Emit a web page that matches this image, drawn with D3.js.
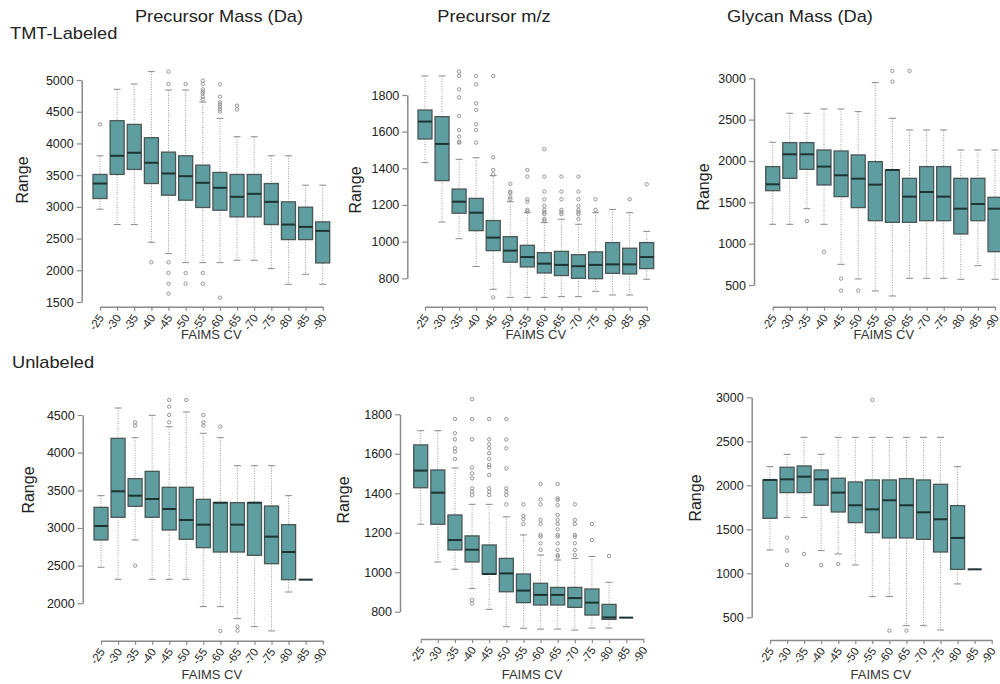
<!DOCTYPE html>
<html><head><meta charset="utf-8">
<script src="https://cdn.jsdelivr.net/npm/d3@7"></script>
<style>
body{margin:0;background:#fff}
svg{display:block}
text{font-family:"Liberation Sans",Arial,Helvetica,sans-serif}
</style>
</head><body><svg id="c" width="1000" height="684"></svg>
<script>
const cvLabels = ["-25","-30","-35","-40","-45","-50","-55","-60","-65","-70","-75","-80","-85","-90"];
const rowLabels = ["TMT-Labeled","Unlabeled"];
const colTitles = ["Precursor Mass (Da)","Precursor m/z","Glycan Mass (Da)"];
const yLabel = "Range";
const xLabel = "FAIMS CV";

// TMT-labeled, precursor mass
const tmtMassTicks = [1500,2000,2500,3000,3500,4000,4500,5000];
const tmtMassLow  = [2963,2721,2721,2442,2263,2121,2121,2121,2158,2158,2026,1779,1937,1779];
const tmtMassQ1   = [3132,3511,3590,3368,3184,3105,2990,2947,2842,2842,2721,2484,2484,2116];
const tmtMassMed  = [3368,3805,3853,3695,3526,3484,3379,3300,3158,3205,3079,2721,2684,2621];
const tmtMassQ3   = [3511,4358,4300,4090,3863,3805,3658,3542,3511,3511,3368,3079,2995,2763];
const tmtMassHigh = [3805,4853,4937,5132,4842,4842,4653,4395,4105,4105,3805,3805,3342,3342];
const tmtMassOut  = [[4300],[],[],[2126],[5132,4937,2126,1958,1789,1632],[4937,1958,1789],
  [4990,4937,4853,4816,4790,4737,4695,1958,1789],[4932,4737,4647,4616,4579,4537,4500,1568],[4595,4537],[],[],[],[],[]];

// TMT-labeled, precursor m/z
const tmtMzTicks = [800,1000,1200,1400,1600,1800];
const tmtMzLow  = [1431,1107,1016,864,740,696,696,696,700,700,729,709,709,795];
const tmtMzQ1   = [1560,1333,1155,1060,951,888,862,829,815,800,798,827,824,853];
const tmtMzMed  = [1655,1533,1218,1158,1022,951,916,880,873,866,873,876,876,916];
const tmtMzQ3   = [1718,1682,1287,1236,1115,1027,980,940,947,929,944,995,964,995];
const tmtMzHigh = [1904,1904,1449,1458,1360,1218,1158,1104,1122,1095,1158,1176,1158,1056];
const tmtMzOut  = [[],[],[1927,1904,1831,1787,1685,1609,1573,1545,1540],[1904,1858,1755,1718,1640,1609,1540],
  [1904,1460,1391,1367,696],[1315,1273,1265,1242,1231],[1391,1355,1231,1218,1173,1164],
  [1504,1355,1273,1231,1195,1173,1160,1151,1124,1115],[1355,1273,1231,1173,1160,1150],
  [1355,1273,1231,1195,1173,1160,1150,1124],[1231,1173],[],[1231],[1313]];

// TMT-labeled, glycan mass
const tmtGlyTicks = [500,1000,1500,2000,2500,3000];
const tmtGlyLow  = [1234,1234,1423,1234,750,573,428,367,581,581,581,569,734,569];
const tmtGlyQ1   = [1641,1790,1899,1710,1569,1436,1278,1258,1258,1278,1278,1117,1278,903];
const tmtGlyMed  = [1718,2081,2081,1932,1827,1786,1714,1891,1569,1625,1569,1423,1480,1423];
const tmtGlyQ3   = [1932,2222,2222,2133,2121,2073,1992,1891,1790,1932,1932,1790,1790,1561];
const tmtGlyHigh = [2226,2577,2577,2629,2629,2597,2948,2516,2375,2375,2375,2133,2133,2133];
const tmtGlyOut  = [[],[],[1274],[903],[577,432],[432],[],[3089,2960],[3089],[],[],[],[],[]];

// Unlabeled, precursor mass
const unlMassTicks = [2000,2500,3000,3500,4000,4500];
const unlMassLow  = [2478,2318,2841,2318,2318,2318,1956,1956,1796,1690,1633,2150,2314,null];
const unlMassQ1   = [2841,3142,3288,3142,2973,2850,2739,2681,2681,2637,2526,2314,2314,null];
const unlMassMed  = [3026,3487,3429,3385,3252,3106,3044,3336,3044,3336,2885,2681,2314,null];
const unlMassQ3   = [3274,4190,3655,3752,3540,3540,3380,3336,3336,3336,3292,3044,2314,null];
const unlMassHigh = [3429,4593,4199,4496,4345,4540,4257,4199,3827,3827,3827,3429,2314,null];
const unlMassOut  = [[],[],[4403,4358,2500],[],[4699,4611,4500,4403],[4699],[4500,4403,4358],
  [4345,1633],[1690,1637],[],[],[],[],[]];

// Unlabeled, precursor m/z
const unlMzTicks = [800,1000,1200,1400,1600,1800];
const unlMzLow  = [1243,1052,1015,917,812,724,716,712,712,707,717,717,770,null];
const unlMzQ1   = [1428,1243,1113,1052,991,901,846,834,834,822,783,761,770,null];
const unlMzMed  = [1515,1403,1163,1114,991,994,907,885,885,869,846,771,770,null];
const unlMzQ3   = [1645,1518,1290,1184,1138,1070,991,944,923,923,915,837,770,null];
const unlMzHigh = [1717,1717,1528,1344,1344,1281,1189,1087,1062,1070,1080,949,770,null];
const unlMzOut  = [[],[],[1776,1704,1673,1628,1611,1574],
  [1876,1776,1673,1530,1501,1476,1425,1408,1391,859,842],
  [1776,1673,1648,1628,1603,1574,1544,1532,1493,1425,1408,1391],
  [1776,1673,1628,1526,1425,1408,1391,1344],[1344,1285,1268,1244],
  [1447,1369,1344,1265,1244,1189,1180,1146,1113],
  [1447,1374,1366,1340,1290,1265,1244,1217,1189,1180,1146,1113,1087,1079],
  [1344,1265,1244,1189,1180,1146,1113,1087],[1244,1163],[1082],[],[]];

// Unlabeled, glycan mass
const unlGlyTicks = [500,1000,1500,2000,2500,3000];
const unlGlyLow  = [1265,1636,1636,1258,1220,1095,735,735,405,405,356,879,1045,null];
const unlGlyQ1   = [1625,1917,1917,1773,1697,1576,1462,1402,1402,1386,1242,1045,1045,null];
const unlGlyMed  = [2061,2068,2098,2068,1917,1773,1727,1830,1773,1693,1614,1402,1045,null];
const unlGlyQ3   = [2061,2205,2220,2174,2080,2038,2061,2061,2076,2061,2011,1769,1045,null];
const unlGlyHigh = [2212,2352,2545,2352,2545,2545,2545,2545,2545,2545,2545,2212,1045,null];
const unlGlyOut  = [[],[1405,1258,1095],[1220],[1095],[1106],[],[2970],[348],[348],[],[],[],[],[]];

const panels = [
  {ticks:tmtMassTicks, lo:tmtMassLow, q1:tmtMassQ1, med:tmtMassMed, q3:tmtMassQ3, hi:tmtMassHigh, out:tmtMassOut,
   yPx:[302,80], axisX:81.7, xPx:[100,322.7], xAxisY:306.7, lab:[22.7,180], cvY:339},
  {ticks:tmtMzTicks, lo:tmtMzLow, q1:tmtMzQ1, med:tmtMzMed, q3:tmtMzQ3, hi:tmtMzHigh, out:tmtMzOut,
   yPx:[278.3,95], axisX:407.3, xPx:[425,646.7], xAxisY:306.7, lab:[355,190], cvY:339},
  {ticks:tmtGlyTicks, lo:tmtGlyLow, q1:tmtGlyQ1, med:tmtGlyMed, q3:tmtGlyQ3, hi:tmtGlyHigh, out:tmtGlyOut,
   yPx:[285,78.3], axisX:754, xPx:[772.7,995], xAxisY:306.7, lab:[703,187], cvY:339},
  {ticks:unlMassTicks, lo:unlMassLow, q1:unlMassQ1, med:unlMassMed, q3:unlMassQ3, hi:unlMassHigh, out:unlMassOut,
   yPx:[603.3,415], axisX:82.7, xPx:[101,322.7], xAxisY:640.7, lab:[28,490], cvY:679},
  {ticks:unlMzTicks, lo:unlMzLow, q1:unlMzQ1, med:unlMzMed, q3:unlMzQ3, hi:unlMzHigh, out:unlMzOut,
   yPx:[611.7,414.3], axisX:400, xPx:[420.7,643.3], xAxisY:639, lab:[343,500], cvY:679},
  {ticks:unlGlyTicks, lo:unlGlyLow, q1:unlGlyQ1, med:unlGlyMed, q3:unlGlyQ3, hi:unlGlyHigh, out:unlGlyOut,
   yPx:[617.3,397.3], axisX:751.7, xPx:[770,991.7], xAxisY:640, lab:[695,498], cvY:679}
];

const svg = d3.select("#c");
const FILL = "#5F9EA0", BORDER = "#4a5656", MED = "#1d3434", AXIS = "#8a8a8a", TXT = "#222";
const boxW = 14, capW = 7;

// titles
const titleX = [219, 494, 800];
colTitles.forEach((t,i) => {
  svg.append("text").attr("transform", `translate(${titleX[i]},22) scale(1.14,1)`)
    .attr("text-anchor","middle").attr("font-size",16).attr("fill",TXT).text(t);
});
svg.append("text").attr("transform","translate(10,39) scale(1.14,1)").attr("font-size",16).attr("fill",TXT).text(rowLabels[0]);
svg.append("text").attr("transform","translate(12,368) scale(1.14,1)").attr("font-size",16).attr("fill",TXT).text(rowLabels[1]);

panels.forEach(p => {
  const y = d3.scaleLinear().domain([p.ticks[0], p.ticks[p.ticks.length-1]]).range(p.yPx);
  const x = d3.scalePoint().domain(cvLabels).range(p.xPx);
  const g = svg.append("g");

  // y axis
  const ya = g.append("g").attr("transform",`translate(${p.axisX},0)`)
    .call(d3.axisLeft(y).tickValues(p.ticks).tickFormat(d3.format("d")).tickSize(5).tickSizeOuter(0).tickPadding(3));
  ya.select(".domain").attr("stroke",AXIS).attr("stroke-width",1.5);
  ya.selectAll(".tick line").attr("stroke",AXIS).attr("stroke-width",1.2);
  ya.selectAll(".tick text").attr("fill",TXT).attr("font-size",12.5).attr("font-family",null);

  // x axis
  const xa = g.append("g").attr("transform",`translate(0,${p.xAxisY})`)
    .call(d3.axisBottom(x).tickSize(4).tickSizeOuter(0));
  xa.select(".domain").attr("stroke",AXIS).attr("stroke-width",1.5);
  xa.selectAll(".tick line").attr("stroke",AXIS).attr("stroke-width",1.2);
  xa.selectAll(".tick text").attr("fill",TXT).attr("font-size",11.5).attr("font-family",null)
    .attr("x",0).attr("y",0).attr("dy",0)
    .attr("text-anchor","end")
    .attr("transform","translate(4,11) rotate(-55)");

  // labels
  g.append("text").attr("transform",`translate(${p.lab[0]+5.5},${p.lab[1]}) rotate(-90)`)
    .attr("text-anchor","middle").attr("font-size",16).attr("fill",TXT).text(yLabel);
  g.append("text").attr("x",(p.xPx[0]+p.xPx[1])/2).attr("y",p.cvY)
    .attr("text-anchor","middle").attr("font-size",13).attr("fill","#333").text(xLabel);

  cvLabels.forEach((c,i) => {
    if (p.q1[i] == null) return;
    const cx = x(c);
    // whiskers
    g.append("line").attr("x1",cx).attr("x2",cx).attr("y1",y(p.hi[i])).attr("y2",y(p.q3[i]))
      .attr("stroke","#9a9a9a").attr("stroke-dasharray","1,1.5");
    g.append("line").attr("x1",cx).attr("x2",cx).attr("y1",y(p.q1[i])).attr("y2",y(p.lo[i]))
      .attr("stroke","#9a9a9a").attr("stroke-dasharray","1,1.5");
    [p.hi[i], p.lo[i]].forEach(v => {
      g.append("line").attr("x1",cx-capW/2).attr("x2",cx+capW/2).attr("y1",y(v)).attr("y2",y(v))
        .attr("stroke","#8a8a8a").attr("stroke-width",1);
    });
    // box
    g.append("rect").attr("x",cx-boxW/2).attr("width",boxW)
      .attr("y",y(p.q3[i])).attr("height",Math.max(0,y(p.q1[i])-y(p.q3[i])))
      .attr("fill",FILL).attr("stroke",BORDER).attr("stroke-width",1.3);
    g.append("line").attr("x1",cx-boxW/2).attr("x2",cx+boxW/2).attr("y1",y(p.med[i])).attr("y2",y(p.med[i]))
      .attr("stroke",MED).attr("stroke-width",2);
    // outliers
    p.out[i].forEach(v => {
      g.append("circle").attr("cx",cx).attr("cy",y(v)).attr("r",1.7)
        .attr("fill","none").attr("stroke","#8a8a8a").attr("stroke-width",0.9);
    });
  });
});
</script>
</body></html>
